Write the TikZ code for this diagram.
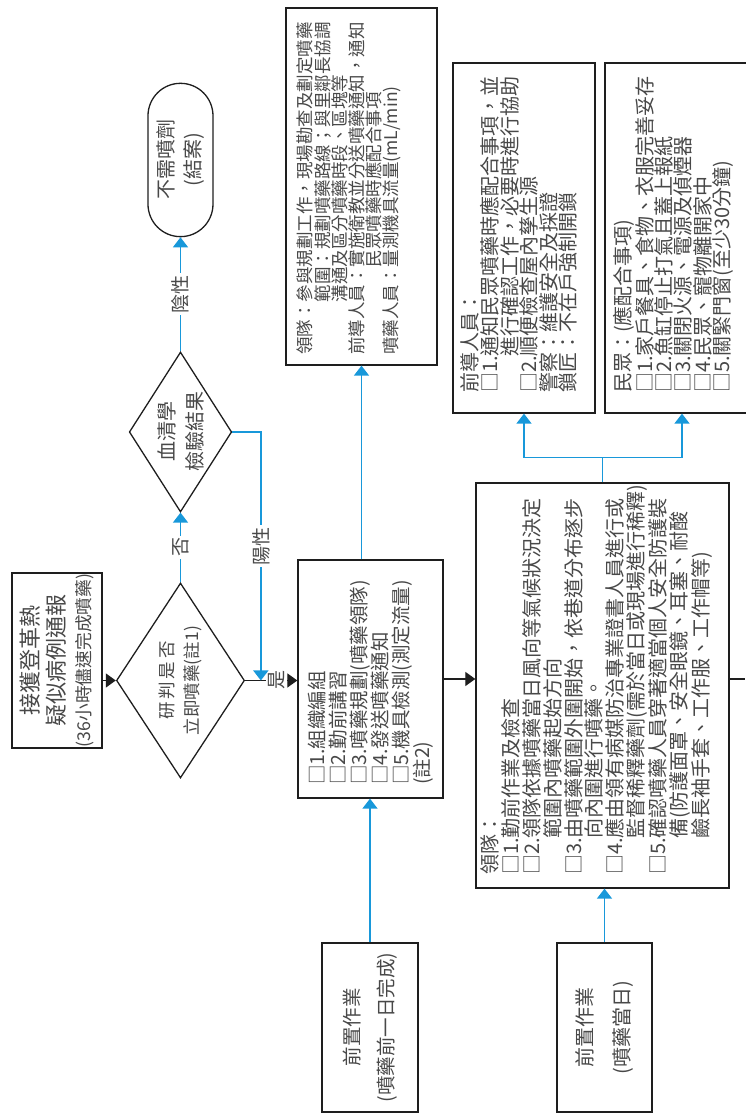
\documentclass[tikz,border=0pt]{standalone}
\usepackage{fontspec}
\setmainfont{Noto Sans CJK TC}
\usetikzlibrary{arrows.meta,shapes.geometric,shapes.misc,calc}
\definecolor{flowInk}{RGB}{30,30,30}
\definecolor{flowText}{RGB}{72,72,72}
\definecolor{flowBlue}{RGB}{24,152,218}
\setlength{\lineskiplimit}{-30pt}
\newcommand{\cardtext}[3]{\parbox[c][#2][t]{#1}{\raggedright #3}}
\newcommand{\lgap}{\hspace{3pt}}

\begin{document}
\begin{tikzpicture}[x=1pt,y=1pt,
    card/.style={draw=flowInk,line width=1.3pt,text=flowText,inner sep=0pt},
    plain/.style={card,align=center},
    decision/.style={diamond,draw=flowInk,line width=1.3pt,text=flowText,align=center,inner sep=-6pt,minimum width=195pt,minimum height=95pt},
    terminal/.style={rounded rectangle,draw=flowInk,line width=1.3pt,text=flowText,align=center,minimum width=160pt,minimum height=65pt},
    blk/.style={-{Triangle[length=10pt,width=14pt]},line width=1.3pt,draw=flowInk},
    blu/.style={-{Triangle[length=10pt,width=15pt]},line width=1.4pt,draw=flowBlue},
    tag/.style={fill=white,text=flowText,inner sep=2pt,font=\fontsize{19}{19}\selectfont}
  ]
  \begin{scope}[rotate=90,transform shape]
    \useasboundingbox (0,0) rectangle (1118,745);

    % main line
    \node[plain,minimum width=175pt,minimum height=90pt,font=\fontsize{22}{26}\selectfont] (start) at (457.5,688)
      {接獲登革熱\\疑似病例通報\\{\fontsize{17.7}{26}\selectfont(36小時儘速完成噴藥)}};
    \node[decision,font=\fontsize{17.5}{25}\selectfont] (dec1) at (437.5,564.5)
      {研\lgap 判\lgap 是\lgap 否\\立即噴藥(註1)};
    \node[decision,minimum width=160pt,font=\fontsize{20}{28}\selectfont] (sero) at (686,564.5)
      {血清學\\檢驗結果};
    \node[terminal,font=\fontsize{20}{27}\selectfont] (term) at (958,564.5)
      {不需噴劑\\(結案)};

    \node[card,minimum width=238pt,minimum height=145pt,font=\fontsize{19.5}{21}\selectfont] (team1) at (439,374.5)
      {\cardtext{212pt}{125pt}{□1.組織編組\\
       □2.勤前講習\\
       □3.噴藥規劃(噴藥領隊)\\
       □4.發送噴藥通知\\
       □5.機具檢測(測定流量)\\
       (註2)}};
    \node[card,minimum width=357pt,minimum height=151pt,font=\fontsize{17.5}{17.2}\selectfont] (topbox) at (931.5,383.5)
      {\cardtext{337pt}{129pt}{領隊：參與規劃工作，現場勘查及劃定噴藥\\
       \phantom{領隊：}範圍：規劃噴藥路線；與里鄰長協調\\
       \phantom{領隊：}溝通及區分噴藥時段、區塊等\\
       前導人員：實施衛教並分送噴藥通知，通知\\
       \phantom{前導人員：}民眾噴藥時應配合事項\\
       噴藥人員：量測機具流量(mL/min)}};
    \node[card,minimum width=405pt,minimum height=253pt,font=\fontsize{20}{20.8}\selectfont] (bigbox) at (432.5,142.5)
      {\cardtext{379pt}{243pt}{領隊：\\
       □1.勤前作業及檢查\\
       □2.領隊依據噴藥當日風向等氣候狀況決定\\
       \phantom{□2.}範圍內噴藥起始方向\\
       □3.由噴藥範圍外圍開始，依巷道分布逐步\\
       \phantom{□3.}向內圍進行噴藥。\\
       □4.應由領有病媒防治專業證書人員進行或\\
       \phantom{□4.}監督稀釋藥劑(需於當日或現場進行稀釋)\\
       □5.確認噴藥人員穿著適當個人安全防護裝\\
       \phantom{□5.}備(防護面罩、安全眼鏡、耳塞、耐酸\\
       \phantom{□5.}鹼長袖手套、工作服、工作帽等)}};
    \node[card,minimum width=350pt,minimum height=142pt,font=\fontsize{20}{19.6}\selectfont] (guide) at (880,221)
      {\cardtext{310pt}{126pt}{前導人員：\\
       □1.通知民眾噴藥時應配合事項，並\\
       \phantom{□1.}進行確認工作，必要時進行協助\\
       □2.順便檢查屋內孳生源\\
       警察：維護安全及採證\\
       鎖匠：不在戶強制開鎖}};
    \node[card,minimum width=350pt,minimum height=154pt,font=\fontsize{20}{19.4}\selectfont] (public) at (880,63)
      {\cardtext{310pt}{138pt}{民眾：(應配合事項)\\
       □1.家戶餐具、食物、衣服完善妥存\\
       □2.魚缸停止打氣且蓋上報紙\\
       □3.關閉火源、電源及偵煙器\\
       □4.民眾、寵物離開家中\\
       □5.關緊門窗(至少30分鐘)}};

    % preparation
    \node[plain,minimum width=169pt,minimum height=96pt,font=\fontsize{19.5}{34}\selectfont] (prep1) at (90.5,375)
      {前置作業\\(噴藥前一日完成)};
    \node[plain,minimum width=169pt,minimum height=95pt,font=\fontsize{20}{37}\selectfont] (prep2) at (90.5,140.5)
      {前置作業\\(噴藥當日)};

    % connectors
    \draw[blk] (dec1.north |- start.south) -- (dec1.north);
    \draw[blk] (dec1.south) -- (dec1.south |- team1.north) node[tag,pos=0.6] {是};
    \draw[blu] (dec1.east) -- (sero.west) node[tag,midway] {否};
    \draw[blu] (sero.east) -- (term.west) node[tag,midway] {陰性};
    \coordinate (merge) at ($(dec1.south)!0.3!(dec1.south |- team1.north)$);
    \draw[blu] (sero.south) |- (merge) node[tag,pos=0.73] {陽性};
    \draw[blk] (team1.south) -- (team1.south |- bigbox.north);
    \draw[line width=1.3pt,draw=flowInk] (team1.south |- bigbox.south) -- (team1.south |- 0,0);
    \draw[blu] (team1.east |- topbox.west) -- (topbox.west);
    \draw[blu] (prep1.east) -- (prep1.east -| team1.west);
    \draw[blu] (prep2.east) -- (prep2.east -| bigbox.west);
    \draw[blu,-] (bigbox.east) -- ++(25,0) coordinate (fork);
    \draw[blu] (fork) |- (guide.west);
    \draw[blu] (fork) |- (public.west);
  \end{scope}
\end{tikzpicture}
\end{document}
